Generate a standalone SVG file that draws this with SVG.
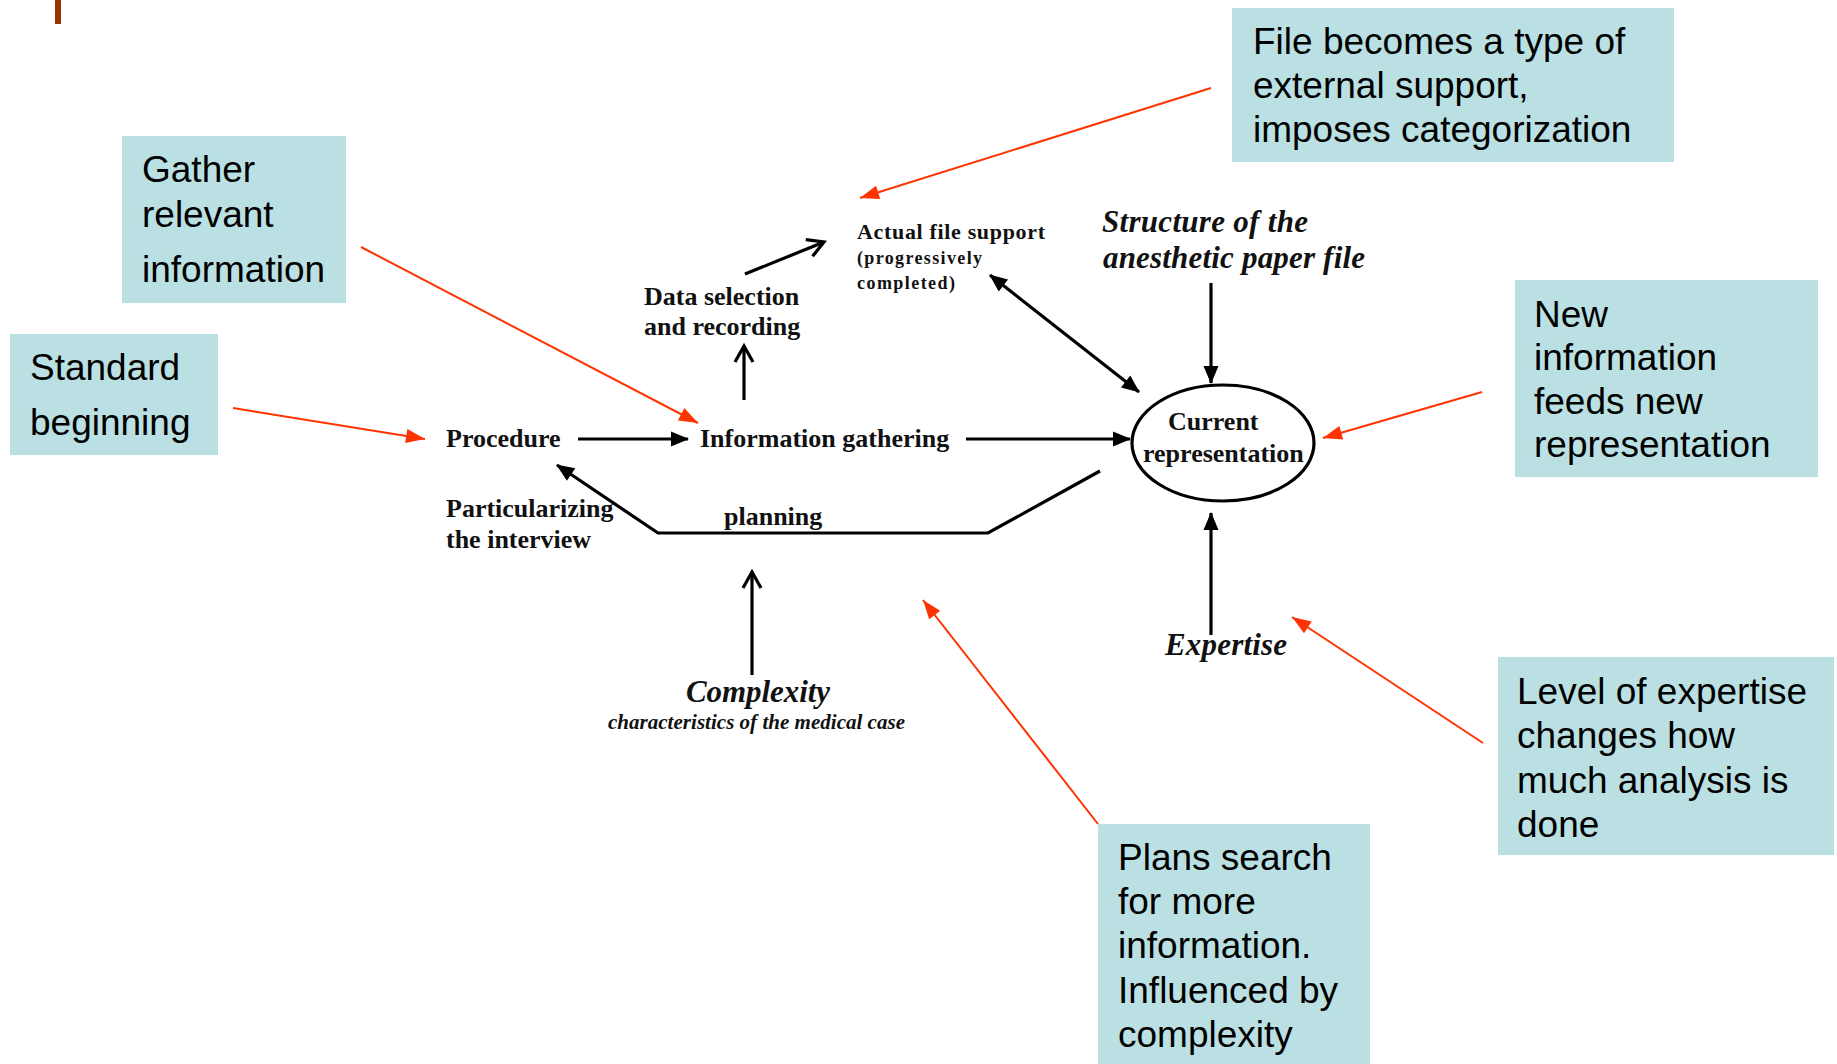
<svg xmlns="http://www.w3.org/2000/svg" width="1837" height="1064" viewBox="0 0 1837 1064">
  <style>
    .box { fill: #BBE0E3; }
    .note { font-family: "Liberation Sans", Arial, sans-serif; font-size: 37px; fill: #000; }
    .lbl { font-family: "Liberation Serif", "Times New Roman", serif; font-weight: bold; fill: #111; }
    .it { font-style: italic; }
    .blk { stroke: #000; stroke-width: 3.2; fill: none; }
    .red { stroke: #FF3300; stroke-width: 2; fill: none; }
  </style>
  <defs>
    <marker id="fa" markerUnits="userSpaceOnUse" markerWidth="18" markerHeight="16" refX="17" refY="7.5" orient="auto-start-reverse" overflow="visible">
      <path d="M0,0 L18,7.5 L0,15 z" fill="#000"/>
    </marker>
    <marker id="oa" markerUnits="userSpaceOnUse" markerWidth="18" markerHeight="20" refX="17" refY="9" orient="auto" overflow="visible">
      <path d="M1,0 L17,9 L1,18" fill="none" stroke="#000" stroke-width="3.2"/>
    </marker>
    <marker id="ra" markerUnits="userSpaceOnUse" markerWidth="20" markerHeight="16" refX="19" refY="7" orient="auto" overflow="visible">
      <path d="M0,0 L19,7 L0,14 z" fill="#FF3300"/>
    </marker>
  </defs>
  <rect x="55" y="0" width="6" height="24" fill="#993300"/>
  <g id="connectors">
    <path class="blk" d="M578,439 L688,439" marker-end="url(#fa)"/>
    <path class="blk" d="M744,400 L744,346" marker-end="url(#oa)"/>
    <path class="blk" d="M745,274 L824,242" marker-end="url(#oa)"/>
    <path class="blk" d="M990,275 L1139,392" marker-start="url(#fa)" marker-end="url(#fa)"/>
    <path class="blk" d="M1211,283 L1211,383" marker-end="url(#fa)"/>
    <path class="blk" d="M966,439 L1130,439" marker-end="url(#fa)"/>
    <path class="blk" d="M1100,471 L988,533 L658,533 L557,465" marker-end="url(#fa)"/>
    <path class="blk" d="M752,675 L752,572" marker-end="url(#oa)"/>
    <path class="blk" d="M1211,635 L1211,513" marker-end="url(#fa)"/>
    <path class="red" d="M1211,88 L860,198" marker-end="url(#ra)"/>
    <path class="red" d="M361,247 L698,423" marker-end="url(#ra)"/>
    <path class="red" d="M233,408 L425,439" marker-end="url(#ra)"/>
    <path class="red" d="M1482,392 L1323,438" marker-end="url(#ra)"/>
    <path class="red" d="M1483,743 L1292,617" marker-end="url(#ra)"/>
    <path class="red" d="M1098,824 L923,600" marker-end="url(#ra)"/>
  </g>
  <g id="procedure"><text class="lbl" x="446" y="447" font-size="26">Procedure</text></g>
  <g id="information-gathering"><text class="lbl" x="700" y="447" font-size="26">Information gathering</text></g>
  <g id="data-selection">
    <text class="lbl" x="644" y="305" font-size="26">Data selection</text>
    <text class="lbl" x="644" y="335" font-size="26">and recording</text>
  </g>
  <g id="actual-file-support">
    <text class="lbl" x="857" y="239" font-size="22" textLength="188">Actual file support</text>
    <text class="lbl" x="857" y="264" font-size="18" textLength="125">(progressively</text>
    <text class="lbl" x="857" y="289" font-size="18" textLength="98">completed)</text>
  </g>
  <g id="structure">
    <text class="lbl it" x="1102" y="232" font-size="31" textLength="206">Structure of the</text>
    <text class="lbl it" x="1103" y="268" font-size="31" textLength="262">anesthetic paper file</text>
  </g>
  <g id="current-representation">
    <ellipse cx="1223" cy="443" rx="91" ry="58" fill="none" stroke="#000" stroke-width="3.2"/>
    <text class="lbl" x="1168" y="430" font-size="26">Current</text>
    <text class="lbl" x="1143" y="462" font-size="26">representation</text>
  </g>
  <g id="particularizing">
    <text class="lbl" x="446" y="517" font-size="26">Particularizing</text>
    <text class="lbl" x="446" y="548" font-size="26">the interview</text>
  </g>
  <g id="planning"><text class="lbl" x="724" y="525" font-size="26">planning</text></g>
  <g id="complexity">
    <text class="lbl it" x="686" y="702" font-size="31" textLength="144">Complexity</text>
    <text class="lbl it" x="608" y="729" font-size="21" textLength="297">characteristics of the medical case</text>
  </g>
  <g id="expertise"><text class="lbl it" x="1165" y="655" font-size="31" textLength="122">Expertise</text></g>

  <g id="note-file">
    <rect class="box" x="1232" y="8" width="442" height="154"/>
    <text class="note" x="1253" y="54">File becomes a type of</text>
    <text class="note" x="1253" y="98">external support,</text>
    <text class="note" x="1253" y="142">imposes categorization</text>
  </g>
  <g id="note-gather">
    <rect class="box" x="122" y="136" width="224" height="167"/>
    <text class="note" x="142" y="182">Gather</text>
    <text class="note" x="142" y="227">relevant</text>
    <text class="note" x="142" y="282">information</text>
  </g>
  <g id="note-standard">
    <rect class="box" x="10" y="334" width="208" height="121"/>
    <text class="note" x="30" y="380">Standard</text>
    <text class="note" x="30" y="435">beginning</text>
  </g>
  <g id="note-new">
    <rect class="box" x="1515" y="280" width="303" height="197"/>
    <text class="note" x="1534" y="327">New</text>
    <text class="note" x="1534" y="370">information</text>
    <text class="note" x="1534" y="414">feeds new</text>
    <text class="note" x="1534" y="457">representation</text>
  </g>
  <g id="note-level">
    <rect class="box" x="1498" y="657" width="336" height="198"/>
    <text class="note" x="1517" y="704">Level of expertise</text>
    <text class="note" x="1517" y="748">changes how</text>
    <text class="note" x="1517" y="793">much analysis is</text>
    <text class="note" x="1517" y="837">done</text>
  </g>
  <g id="note-plans">
    <rect class="box" x="1098" y="824" width="272" height="240"/>
    <text class="note" x="1118" y="870">Plans search</text>
    <text class="note" x="1118" y="914">for more</text>
    <text class="note" x="1118" y="958">information.</text>
    <text class="note" x="1118" y="1003">Influenced by</text>
    <text class="note" x="1118" y="1047">complexity</text>
  </g>
</svg>
